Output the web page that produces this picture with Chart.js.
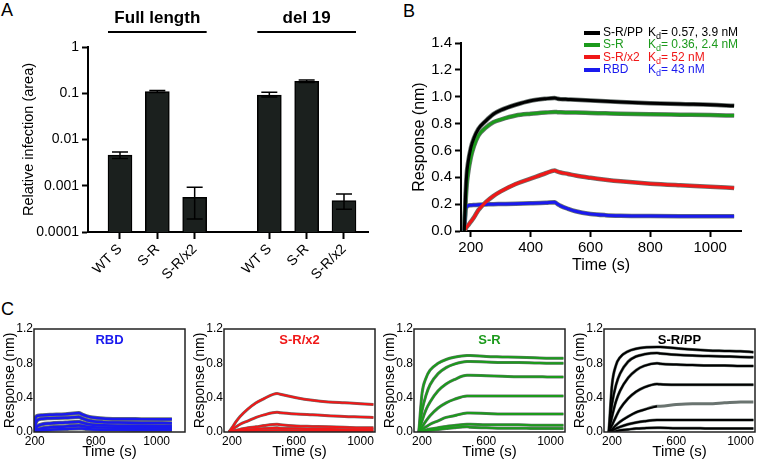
<!DOCTYPE html>
<html>
<head>
<meta charset="utf-8">
<script src="https://cdn.jsdelivr.net/npm/chart.js@4.4.0/dist/chart.umd.min.js"></script>
<style>
  body { margin: 0; background: #fff; font-family: "Liberation Sans", Arial, sans-serif; }
  #fig { position: relative; width: 760px; height: 461px; overflow: hidden; }
  canvas { position: absolute; }
  .letter { position: absolute; font-size: 18px; color: #000; }
  #legB { position: absolute; left: 584px; top: 26px; font-size: 12px; line-height: 12.3px; }
  #legB .row { white-space: nowrap; height: 12.3px; }
  #legB .sw { display: inline-block; width: 16px; height: 4px; vertical-align: middle; margin-right: 3px; }
  #legB .nm { display: inline-block; width: 45px; }
  #legB sub { font-size: 9px; vertical-align: -3px; line-height: 0; }
</style>
</head>
<body>
<div id="fig">
  <div class="letter" style="left:1px;top:0px">A</div>
  <div class="letter" style="left:403px;top:1px">B</div>
  <div class="letter" style="left:1px;top:299px">C</div>

  <canvas id="chartA" width="380" height="300" style="left:0;top:0"></canvas>
  <canvas id="chartB" width="380" height="280" style="left:380px;top:0"></canvas>
  <canvas id="chartC1" width="190" height="161" style="left:0;top:300px"></canvas>
  <canvas id="chartC2" width="190" height="161" style="left:190px;top:300px"></canvas>
  <canvas id="chartC3" width="190" height="161" style="left:380px;top:300px"></canvas>
  <canvas id="chartC4" width="190" height="161" style="left:570px;top:300px"></canvas>

  <div id="legB"></div>
</div>

<script>
// ---- Panel A: infection (log scale) ----
const groupNames = ['Full length', 'del 19'];
const variants = ['WT S', 'S-R', 'S-R/x2'];
const fullLength = [0.0046, 0.109, 0.00056];
const fullLow = [0.0039, 0.104, 0.00019];
const fullHigh = [0.0054, 0.115, 0.00093];
const del19 = [0.091, 0.180, 0.00048];
const del19Low = [0.083, 0.170, 0.00031];
const del19High = [0.105, 0.193, 0.00066];
const yTicksA = [0.0001, 0.001, 0.01, 0.1, 1];

// ---- Panel B: binding curves ----
const timeB = [178, 182, 186, 190, 200, 210, 225, 250, 275, 300, 350, 400, 450, 480, 490, 500, 525, 550, 600, 650, 700, 800, 900, 1000, 1080];
const srppB = [0, 0.25, 0.42, 0.50, 0.62, 0.69, 0.76, 0.82, 0.87, 0.90, 0.94, 0.97, 0.985, 0.99, 0.985, 0.982, 0.980, 0.978, 0.972, 0.966, 0.961, 0.952, 0.945, 0.940, 0.932];
const srB = [0, 0.20, 0.34, 0.42, 0.55, 0.63, 0.71, 0.77, 0.81, 0.83, 0.86, 0.873, 0.882, 0.886, 0.885, 0.884, 0.883, 0.882, 0.879, 0.876, 0.873, 0.869, 0.866, 0.863, 0.860];
const srx2B = [0, 0.015, 0.03, 0.04, 0.07, 0.10, 0.155, 0.215, 0.26, 0.295, 0.35, 0.39, 0.43, 0.45, 0.442, 0.436, 0.425, 0.413, 0.396, 0.382, 0.370, 0.352, 0.340, 0.330, 0.320];
const rbdB = [0, 0.15, 0.18, 0.188, 0.192, 0.194, 0.196, 0.198, 0.200, 0.201, 0.203, 0.206, 0.210, 0.214, 0.200, 0.187, 0.165, 0.147, 0.127, 0.118, 0.114, 0.111, 0.110, 0.110, 0.110];
const xTicksB = [200, 400, 600, 800, 1000];
const legendNames = ['S-R/PP', 'S-R', 'S-R/x2', 'RBD'];
const legendKd = ['0.57, 3.9 nM', '0.36, 2.4 nM', '52 nM', '43 nM'];

// ---- Panel C: concentration series ----
const timeRbd = [200, 204, 210, 220, 250, 300, 400, 490, 510, 540, 580, 650, 750, 900, 1100];
const rbdC = [
  [0, 0.15, 0.18, 0.19, 0.195, 0.20, 0.208, 0.22, 0.205, 0.185, 0.17, 0.158, 0.152, 0.15, 0.149],
  [0, 0.08, 0.12, 0.14, 0.155, 0.16, 0.165, 0.175, 0.16, 0.14, 0.125, 0.115, 0.11, 0.105, 0.103],
  [0, 0.03, 0.05, 0.07, 0.09, 0.10, 0.11, 0.12, 0.11, 0.095, 0.085, 0.078, 0.074, 0.072, 0.07],
  [0, 0.01, 0.02, 0.03, 0.045, 0.055, 0.065, 0.075, 0.07, 0.062, 0.056, 0.051, 0.049, 0.048, 0.047],
  [0, 0.005, 0.008, 0.012, 0.02, 0.027, 0.035, 0.042, 0.04, 0.035, 0.03, 0.027, 0.025, 0.024, 0.023]
];
const timeC = [180, 200, 225, 250, 300, 350, 400, 480, 500, 600, 700, 800, 900, 1000, 1080];
const srx2C = [
  [0, 0.05, 0.12, 0.18, 0.27, 0.34, 0.39, 0.45, 0.44, 0.40, 0.37, 0.35, 0.34, 0.33, 0.32],
  [0, 0.03, 0.06, 0.09, 0.13, 0.17, 0.20, 0.23, 0.225, 0.21, 0.20, 0.19, 0.18, 0.175, 0.17],
  [0, 0.01, 0.02, 0.03, 0.05, 0.06, 0.075, 0.09, 0.085, 0.07, 0.065, 0.06, 0.055, 0.05, 0.05],
  [0, 0.005, 0.01, 0.015, 0.025, 0.035, 0.04, 0.05, 0.045, 0.04, 0.035, 0.035, 0.03, 0.03, 0.03],
  [0, 0.003, 0.005, 0.008, 0.012, 0.015, 0.018, 0.02, 0.02, 0.018, 0.015, 0.015, 0.013, 0.012, 0.012]
];
const srC = [
  [0, 0.45, 0.63, 0.72, 0.80, 0.845, 0.87, 0.89, 0.89, 0.88, 0.875, 0.87, 0.865, 0.86, 0.86],
  [0, 0.25, 0.43, 0.55, 0.68, 0.75, 0.79, 0.82, 0.82, 0.815, 0.81, 0.81, 0.805, 0.80, 0.80],
  [0, 0.13, 0.26, 0.35, 0.48, 0.56, 0.61, 0.66, 0.66, 0.655, 0.65, 0.645, 0.645, 0.64, 0.64],
  [0, 0.06, 0.13, 0.19, 0.28, 0.34, 0.38, 0.42, 0.42, 0.42, 0.42, 0.42, 0.42, 0.42, 0.42],
  [0, 0.03, 0.06, 0.09, 0.13, 0.17, 0.19, 0.22, 0.22, 0.215, 0.21, 0.21, 0.21, 0.21, 0.21],
  [0, 0.01, 0.025, 0.035, 0.05, 0.065, 0.075, 0.09, 0.09, 0.085, 0.085, 0.085, 0.08, 0.08, 0.08],
  [0, 0.01, 0.015, 0.02, 0.03, 0.04, 0.05, 0.06, 0.055, 0.05, 0.045, 0.045, 0.04, 0.04, 0.04]
];
const srppC = [
  [0, 0.55, 0.78, 0.87, 0.94, 0.97, 0.985, 0.99, 0.99, 0.975, 0.96, 0.95, 0.945, 0.94, 0.93],
  [0, 0.33, 0.55, 0.68, 0.82, 0.88, 0.905, 0.92, 0.915, 0.90, 0.89, 0.885, 0.88, 0.875, 0.87],
  [0, 0.18, 0.36, 0.48, 0.63, 0.72, 0.77, 0.80, 0.795, 0.785, 0.78, 0.775, 0.775, 0.77, 0.77],
  [0, 0.08, 0.18, 0.27, 0.39, 0.47, 0.52, 0.56, 0.555, 0.55, 0.55, 0.55, 0.55, 0.55, 0.55],
  [0, 0.03, 0.08, 0.12, 0.18, 0.23, 0.26, 0.30, 0.30, 0.32, 0.33, 0.33, 0.34, 0.35, 0.35],
  [0, 0.02, 0.04, 0.06, 0.09, 0.11, 0.125, 0.14, 0.14, 0.14, 0.14, 0.14, 0.14, 0.14, 0.14],
  [0, 0.005, 0.01, 0.02, 0.03, 0.04, 0.045, 0.05, 0.05, 0.045, 0.045, 0.04, 0.04, 0.04, 0.04]
];
// the 5th S-R/PP trace has no fit after the association phase
const srppFitEnd = [1080, 1080, 1080, 1080, 480, 1080, 1080];
const xTicksC = [200, 600, 1000];
const yTicksC = [0, 0.4, 0.8, 1.2];

const FONT = '"Liberation Sans", Arial, sans-serif';
const GRAY = '#6a7470';
const colors = { pp: '#000000', sr: '#1c9a1c', x2: '#f01818', rbd: '#1a1aee' };

Chart.defaults.font.family = FONT;
Chart.defaults.color = '#000';
Chart.defaults.animation = false;
Chart.defaults.plugins.legend.display = false;
Chart.defaults.plugins.tooltip.enabled = false;

// ---------- Panel A ----------
const barPoints = [];
const barLow = [];
const barHigh = [];
[fullLength, del19].forEach((vals, g) => {
  const lows = g === 0 ? fullLow : del19Low;
  const highs = g === 0 ? fullHigh : del19High;
  vals.forEach((v, i) => {
    barPoints.push({ x: g * 4 + i, y: v });
    barLow.push(lows[i]);
    barHigh.push(highs[i]);
  });
});

const errorBars = {
  id: 'errorBars',
  afterDatasetsDraw(chart) {
    const { ctx, scales: { y } } = chart;
    const meta = chart.getDatasetMeta(0);
    ctx.save();
    ctx.strokeStyle = '#000';
    ctx.lineWidth = 1.5;
    meta.data.forEach((bar, i) => {
      const lo = y.getPixelForValue(barLow[i]);
      const hi = y.getPixelForValue(barHigh[i]);
      ctx.beginPath();
      ctx.moveTo(bar.x, lo); ctx.lineTo(bar.x, hi);
      ctx.moveTo(bar.x - 8, hi); ctx.lineTo(bar.x + 8, hi);
      ctx.moveTo(bar.x - 8, lo); ctx.lineTo(bar.x + 8, lo);
      ctx.stroke();
    });
    ctx.restore();
  }
};

const groupLabels = {
  id: 'groupLabels',
  afterDraw(chart) {
    const { ctx, scales: { x } } = chart;
    ctx.save();
    ctx.font = 'bold 17px ' + FONT;
    ctx.fillStyle = '#000';
    ctx.strokeStyle = '#000';
    ctx.lineWidth = 2;
    ctx.textAlign = 'center';
    ctx.textBaseline = 'middle';
    groupNames.forEach((name, g) => {
      const x0 = x.getPixelForValue(g * 4) - 12;
      const x1 = x.getPixelForValue(g * 4 + 2) + 12;
      ctx.fillText(name, (x0 + x1) / 2, 18);
      ctx.beginPath();
      ctx.moveTo(x0, 32); ctx.lineTo(x1, 32);
      ctx.stroke();
    });
    ctx.restore();
  }
};

new Chart(document.getElementById('chartA'), {
  type: 'bar',
  data: {
    datasets: [{
      data: barPoints,
      backgroundColor: '#1b201e',
      borderColor: '#000',
      borderWidth: 1.5,
      barThickness: 24
    }]
  },
  options: {
    responsive: false,
    devicePixelRatio: 1,
    layout: { padding: { left: 0, right: 12, top: 47, bottom: 0 } },
    scales: {
      x: {
        type: 'linear',
        min: -0.857,
        max: 6.643,
        offset: false,
        afterBuildTicks: s => { s.ticks = [0, 1, 2, 4, 5, 6].map(v => ({ value: v })); },
        afterFit: s => { s.height = 68; },
        ticks: {
          callback: v => variants[v % 4],
          minRotation: 45, maxRotation: 45,
          font: { size: 14 }, color: '#000', padding: 2, autoSkip: false
        },
        grid: { display: true, drawOnChartArea: false, offset: false, tickLength: 7, tickWidth: 2, tickColor: '#000' },
        border: { display: true, width: 2, color: '#000' }
      },
      y: {
        type: 'logarithmic',
        min: 0.0001,
        max: 1,
        afterBuildTicks: s => { s.ticks = yTicksA.map(v => ({ value: v })); },
        afterFit: s => { s.width = 88; },
        ticks: { callback: v => String(v), font: { size: 14 }, color: '#000', padding: 3 },
        grid: { display: true, drawOnChartArea: false, tickLength: 6, tickWidth: 2, tickColor: '#000' },
        border: { display: true, width: 2, color: '#000' },
        title: { display: true, text: 'Relative infection (area)', font: { size: 14.5 }, color: '#000', padding: { top: 20, bottom: 0 } }
      }
    }
  },
  plugins: [errorBars, groupLabels]
});

// ---------- Panel B ----------
function curveData(times, vals, tEnd) {
  const pts = [];
  times.forEach((t, i) => {
    if (tEnd === undefined || t <= tEnd) pts.push({ x: t, y: vals[i] });
  });
  return pts;
}

function kineticSets(times, seriesList, color, grayWidth, lineWidth, fitEnds) {
  const sets = [];
  seriesList.forEach((vals, k) => {
    sets.push({
      data: curveData(times, vals), borderColor: GRAY, borderWidth: grayWidth,
      pointRadius: 0, cubicInterpolationMode: 'monotone', order: 1
    });
    sets.push({
      data: curveData(times, vals, fitEnds ? fitEnds[k] : undefined), borderColor: color, borderWidth: lineWidth,
      pointRadius: 0, cubicInterpolationMode: 'monotone', order: 0
    });
  });
  return sets;
}

const bSeries = [srppB, srB, srx2B, rbdB];
const bColors = [colors.pp, colors.sr, colors.x2, colors.rbd];
let bSets = [];
bSeries.forEach((vals, k) => { bSets = bSets.concat(kineticSets(timeB, [vals], bColors[k], 4.5, 3)); });

new Chart(document.getElementById('chartB'), {
  type: 'line',
  data: { datasets: bSets },
  options: {
    responsive: false,
    devicePixelRatio: 1,
    layout: { padding: { left: 0, right: 19, top: 43, bottom: 0 } },
    scales: {
      x: {
        type: 'linear', min: 167, max: 1103,
        afterBuildTicks: s => { s.ticks = xTicksB.map(v => ({ value: v })); },
        afterFit: s => { s.height = 49; },
        ticks: { callback: v => String(v), font: { size: 15 }, color: '#000', padding: 2, maxRotation: 0 },
        grid: { display: true, drawOnChartArea: false, tickLength: 6, tickWidth: 2, tickColor: '#000' },
        border: { display: true, width: 2, color: '#000' },
        title: { display: true, text: 'Time (s)', font: { size: 16 }, color: '#000', padding: { top: 0, bottom: 5 } }
      },
      y: {
        type: 'linear', min: 0, max: 1.4,
        ticks: { stepSize: 0.2, callback: v => v.toFixed(1), font: { size: 15 }, color: '#000', padding: 3 },
        afterFit: s => { s.width = 81; },
        grid: { display: true, drawOnChartArea: false, tickLength: 6, tickWidth: 2, tickColor: '#000' },
        border: { display: true, width: 2, color: '#000' },
        title: { display: true, text: 'Response (nm)', font: { size: 16 }, color: '#000', padding: { top: 30, bottom: 0 } }
      }
    }
  }
});

// legend for B (text with subscript)
const legB = document.getElementById('legB');
legendNames.forEach((name, k) => {
  const row = document.createElement('div');
  row.className = 'row';
  row.style.color = bColors[k];
  row.innerHTML = `<span class="sw" style="background:${bColors[k]}"></span><span class="nm">${name}</span>K<sub>d</sub>= ${legendKd[k]}`;
  legB.appendChild(row);
});

// ---------- Panel C ----------
const frame = {
  id: 'frame',
  afterDraw(chart) {
    const { ctx, chartArea: a } = chart;
    ctx.save();
    ctx.strokeStyle = '#222';
    ctx.lineWidth = 1.5;
    ctx.strokeRect(a.left, a.top, a.right - a.left, a.bottom - a.top);
    const name = chart.options.plugins.panelName;
    ctx.font = 'bold 13px ' + FONT;
    ctx.fillStyle = name.color;
    ctx.textAlign = 'center';
    ctx.textBaseline = 'middle';
    ctx.fillText(name.text, (a.left + a.right) / 2, a.top + 11);
    ctx.restore();
  }
};

function smallChart(id, times, seriesList, color, name, xMin, xMax, grayWidth, lineWidth, fitEnds) {
  new Chart(document.getElementById(id), {
    type: 'line',
    data: { datasets: kineticSets(times, seriesList, color, grayWidth, lineWidth, fitEnds) },
    options: {
      responsive: false,
      devicePixelRatio: 1,
      layout: { padding: { left: 0, right: 5, top: 29, bottom: 0 } },
      plugins: { panelName: { text: name, color: color } },
      scales: {
        x: {
          type: 'linear', min: xMin, max: xMax,
          afterBuildTicks: s => { s.ticks = xTicksC.map(v => ({ value: v })); },
          afterFit: s => { s.height = 29; },
          ticks: { callback: v => String(v), font: { size: 12 }, color: '#000', padding: 2, maxRotation: 0 },
          grid: { display: false, drawTicks: false },
          border: { display: false },
          title: { display: true, text: 'Time (s)', font: { size: 15 }, color: '#000', padding: { top: 0, bottom: 0 } }
        },
        y: {
          type: 'linear', min: 0, max: 1.2,
          afterBuildTicks: s => { s.ticks = yTicksC.map(v => ({ value: v })); },
          afterFit: s => { s.width = 34; },
          ticks: { callback: v => v.toFixed(1), font: { size: 12 }, color: '#000', padding: 1 },
          grid: { display: false, drawTicks: false },
          border: { display: false },
          title: { display: true, text: 'Response (nm)', font: { size: 14 }, color: '#000', padding: { top: 2, bottom: 0 } }
        }
      }
    },
    plugins: [frame]
  });
}

smallChart('chartC1', timeRbd, rbdC, colors.rbd, 'RBD', 195, 1186, 4, 2.5);
smallChart('chartC2', timeC, srx2C, colors.x2, 'S-R/x2', 150, 1090, 3, 2);
smallChart('chartC3', timeC, srC, colors.sr, 'S-R', 150, 1090, 3, 2);
smallChart('chartC4', timeC, srppC, colors.pp, 'S-R/PP', 150, 1090, 3, 2, srppFitEnd);
</script>
</body>
</html>
